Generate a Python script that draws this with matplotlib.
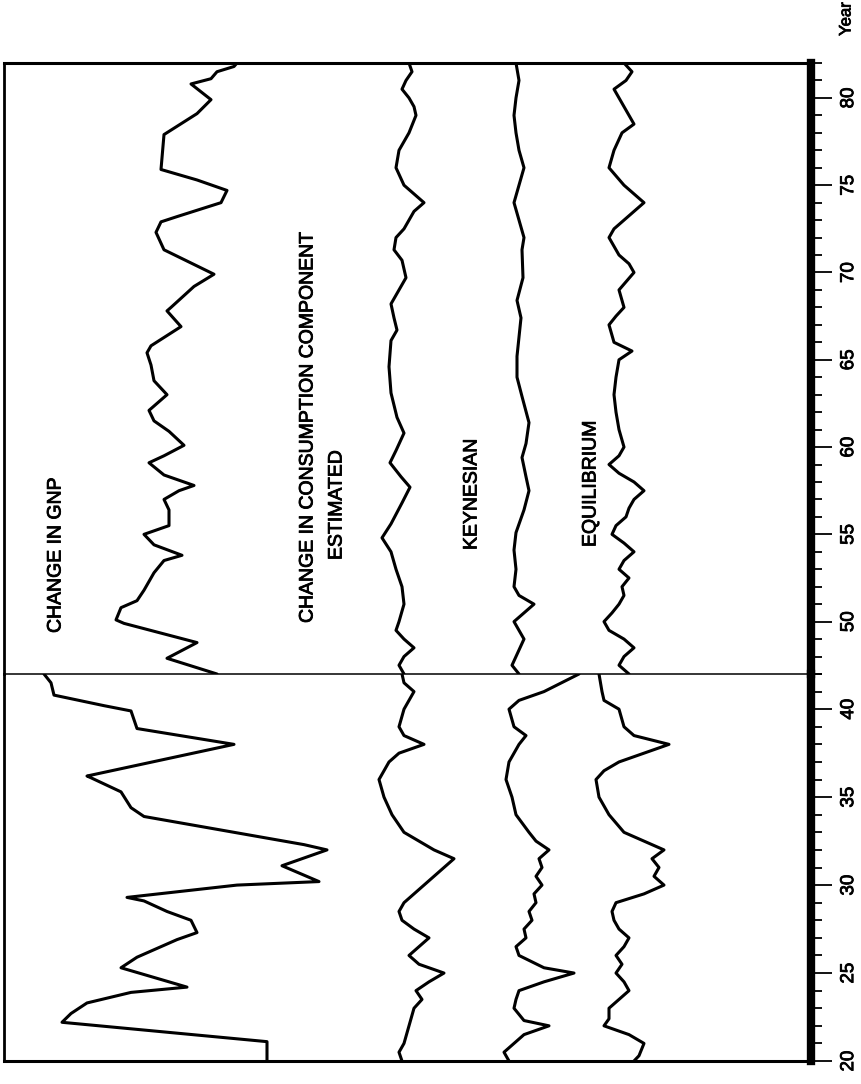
import matplotlib
matplotlib.use("Agg")
import matplotlib.pyplot as plt
import matplotlib.patheffects as pe
from matplotlib.ticker import MultipleLocator

plt.rcParams['font.family'] = ['Liberation Sans', 'DejaVu Sans']

# ==========================================
# Data: year vs. horizontal offset (arbitrary units, no value scale shown)
# Lower panel 1920-1942, upper panel 1947-1982 (war years left out)
# ==========================================
gnp_lo_year = [20.0, 21.1, 22.2, 22.7, 23.3, 23.9, 24.2, 25.3, 25.9, 26.9, 27.3, 28.0, 28.5,
               29.1, 29.3, 30.0, 30.2, 31.1, 32.0, 32.3, 33.9, 34.4, 35.3, 36.1, 36.2, 38.0,
               38.9, 39.9, 40.2, 40.8, 41.5, 42.0]
gnp_lo = [263, 263, 58, 67, 83, 127, 183, 117, 133, 173, 193, 187, 163,
          140, 123, 233, 315, 278, 323, 300, 140, 127, 117, 87, 83, 230,
          133, 127, 100, 50, 47, 40]

gnp_hi_year = [47.0, 47.9, 48.8, 49.9, 50.1, 50.8, 51.2, 51.8, 52.8, 53.5, 53.8, 54.4, 55.0,
               55.5, 56.4, 57.0, 57.5, 57.8, 58.4, 59.1, 59.5, 60.1, 60.9, 61.5, 62.1, 63.0,
               63.8, 64.7, 65.4, 65.8, 66.9, 67.8, 68.0, 69.2, 69.9, 71.3, 72.3, 72.9, 73.2,
               74.0, 74.7, 75.3, 75.9, 77.9, 79.1, 79.9, 80.8, 81.1, 81.5, 81.8, 82.0]
gnp_hi = [213, 163, 193, 120, 112, 117, 133, 140, 150, 160, 178, 150, 140,
          165, 165, 160, 175, 190, 160, 145, 160, 180, 165, 150, 145, 163,
          150, 147, 143, 147, 177, 163, 167, 190, 210, 160, 152, 157, 173,
          217, 223, 193, 157, 160, 193, 207, 187, 207, 213, 230, 233]

cons_lo_year = [20, 20.5, 21, 22, 23, 23.5, 24, 24.5, 25, 25.5, 26, 26.5, 27, 27.5, 28, 28.5,
                29, 29.5, 30, 31, 31.5, 32, 33, 34, 35, 36, 37, 37.5, 38, 38.5, 39, 40, 41,
                41.5, 42]
cons_lo = [398, 395, 400, 405, 410, 418, 412, 425, 440, 415, 405, 415, 425, 410, 398, 395,
           400, 410, 420, 440, 450, 430, 400, 388, 380, 375, 385, 395, 420, 400, 395, 400, 410,
           400, 398]

cons_hi_year = [47, 47.5, 48, 48.5, 49, 49.5, 50, 51, 52, 53, 54, 54.8, 55.6, 56.8, 57.7, 58.3,
                59.1, 59.8, 60.8, 61.7, 63.1, 64.6, 66.1, 66.7, 67.4, 68.2, 69.0, 69.7, 70.7,
                71.3, 72, 72.5, 73, 73.5, 74, 74.5, 75, 76, 77, 78, 79, 79.5, 80, 80.5, 81,
                81.5, 82]
cons_hi = [400, 395, 400, 410, 400, 392, 395, 400, 398, 392, 387, 378, 387, 398, 406, 397,
           386, 392, 400, 393, 387, 385, 387, 393, 390, 387, 395, 402, 398,
           390, 392, 400, 405, 410, 420, 410, 400, 392, 395, 405, 412, 410, 405, 398, 402,
           408, 405]

keyn_lo_year = [20, 20.5, 21, 21.5, 22, 22.3, 23, 23.5, 24, 24.5, 25, 25.3, 26, 26.5, 27, 27.5,
                28, 28.5, 29, 29.5, 30, 30.5, 31, 31.5, 32, 32.5, 33, 34, 35, 36, 37, 38, 38.5,
                39, 40, 40.5, 41, 42]
keyn_lo = [505, 500, 510, 520, 545, 520, 510, 512, 515, 540, 570, 540, 515, 512, 522, 520,
           528, 525, 532, 530, 538, 532, 538, 535, 545, 532, 525, 512, 508, 502, 505, 515, 522,
           510, 505, 515, 540, 575]

keyn_hi_year = [47, 47.5, 48, 49, 50, 50.5, 51, 51.5, 52, 53, 54.1, 55.1, 56.4, 57.5, 58.3, 59.4,
                60.2, 61.4, 62.9, 64.0, 65.2, 66.3, 67.4, 68.4, 69.7, 71.3, 72, 73, 74, 75, 76,
                77, 78, 79, 80, 81, 82]
keyn_hi = [515, 508, 512, 520, 510, 520, 530, 515, 510, 512, 510, 512, 520, 525, 522, 518,
           522, 525, 518, 513, 513, 515, 517, 513, 519, 518, 520, 515, 510, 515, 520,
           515, 512, 510, 512, 515, 512]

equi_lo_year = [20, 20.3, 21, 21.5, 22, 22.4, 23, 23.5, 24, 24.5, 25, 25.5, 26, 26.5, 27, 27.5,
                28, 28.5, 29, 29.5, 30, 30.5, 31, 31.5, 32, 32.5, 33, 34, 35, 36, 36.5, 37, 38,
                38.5, 39, 40, 40.5, 41, 42]
equi_lo = [630, 635, 640, 625, 600, 605, 605, 615, 625, 620, 612, 618, 612, 620, 625, 615,
           610, 608, 612, 640, 660, 650, 655, 648, 660, 640, 620, 605, 595, 592, 600, 615, 665,
           630, 620, 615, 600, 598, 595]

equi_hi_year = [47, 47.5, 48, 48.5, 49, 49.5, 50, 50.5, 51, 51.5, 52, 52.5, 53, 53.5, 54, 54.5,
                55, 55.5, 56, 56.5, 57, 57.5, 58, 58.5, 59, 59.5, 60, 61, 62, 63, 64, 65, 65.5,
                66, 67, 67.5, 68, 69, 70, 70.5, 71, 72, 72.5, 73, 74, 74.5, 75, 76, 77, 78,
                78.5, 79, 80, 80.5, 81, 81.5, 82]
equi_hi = [625, 615, 620, 630, 620, 605, 600, 608, 615, 620, 618, 625, 615, 620, 630, 620,
           608, 612, 622, 625, 630, 640, 630, 615, 605, 615, 620, 615, 612, 610, 612, 615, 628,
           610, 605, 612, 620, 615, 630, 625, 615, 605, 610, 620, 640, 630, 620, 605, 610, 618,
           630, 625, 615, 610, 622, 628, 620]

LABELS = [
    ("CHANGE IN GNP", 56, 633),
    ("CHANGE IN CONSUMPTION COMPONENT", 308, 623),
    ("ESTIMATED", 337, 560),
    ("KEYNESIAN", 472, 550),
    ("EQUILIBRIUM", 591, 547),
]

# ==========================================
# Figure layout (pixel based)
# ==========================================
W, H = 861, 1084
fig = plt.figure(figsize=(W / 100, H / 100), dpi=100)

LEFT, RIGHT = 4, 811
Y_BOTTOM, Y_BREAK, Y_TOP = 1061, 674, 63

ax_lo = fig.add_axes([LEFT / W, 1 - Y_BOTTOM / H, (RIGHT - LEFT) / W, (Y_BOTTOM - Y_BREAK) / H])
ax_hi = fig.add_axes([LEFT / W, 1 - Y_BREAK / H, (RIGHT - LEFT) / W, (Y_BREAK - Y_TOP) / H])

line_kw = dict(color="black", linewidth=2.2, solid_joinstyle="round", solid_capstyle="round")

ax_lo.plot(gnp_lo, gnp_lo_year, **line_kw)
ax_lo.plot(cons_lo, cons_lo_year, **line_kw)
ax_lo.plot(keyn_lo, keyn_lo_year, **line_kw)
ax_lo.plot(equi_lo, equi_lo_year, **line_kw)

ax_hi.plot(gnp_hi, gnp_hi_year, **line_kw)
ax_hi.plot(cons_hi, cons_hi_year, **line_kw)
ax_hi.plot(keyn_hi, keyn_hi_year, **line_kw)
ax_hi.plot(equi_hi, equi_hi_year, **line_kw)

ax_lo.set_ylim(20, 42)
ax_hi.set_ylim(47, 82)

# slightly heavier text, like the printed original
heavy = [pe.withStroke(linewidth=0.6, foreground="black")]

for ax in (ax_lo, ax_hi):
    ax.set_xlim(0, RIGHT - LEFT)
    ax.set_xticks([])
    ax.patch.set_alpha(0)
    ax.yaxis.tick_right()
    ax.yaxis.set_major_locator(MultipleLocator(5))
    ax.yaxis.set_minor_locator(MultipleLocator(1))
    ax.tick_params(axis="y", which="major", direction="out", length=15, width=1.3,
                   labelsize=13.5, pad=6, labelrotation=90)
    ax.tick_params(axis="y", which="minor", direction="out", length=8, width=1.3)
    for lab in ax.get_yticklabels():
        lab.set_va("center")
        lab.set_path_effects(heavy)
    ax.spines["right"].set_linewidth(6)
    ax.spines["left"].set_linewidth(2.0)
    ax.spines["top"].set_linewidth(2.2)
    ax.spines["bottom"].set_linewidth(2.2)

# the break between the two periods is a thin line
ax_lo.spines["top"].set_linewidth(1.1)
ax_hi.spines["bottom"].set_visible(False)

for text, x, y in LABELS:
    fig.text(x / W, 1 - y / H, text, rotation=90, ha="center", va="bottom",
             fontsize=14, path_effects=heavy)

fig.text(846 / W, 1 - 19 / H, "Year", rotation=90, ha="center", va="center", fontsize=12,
         path_effects=heavy)

fig.savefig("out.png", dpi=100)
